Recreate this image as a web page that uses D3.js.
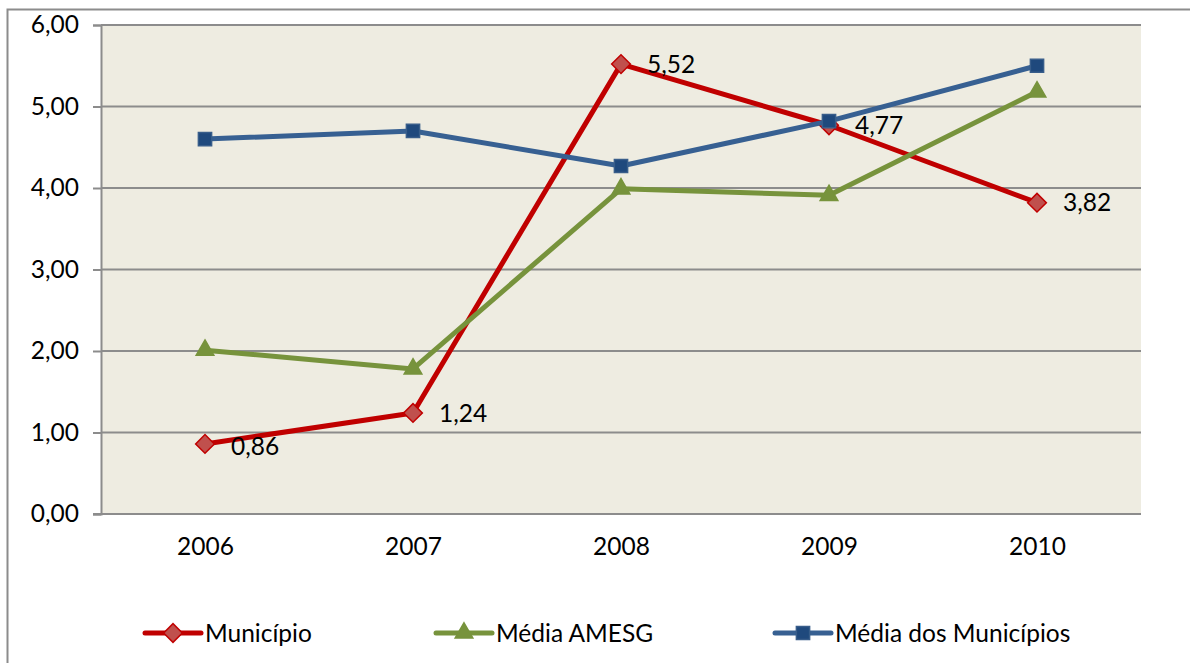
<!DOCTYPE html>
<html>
<head>
<meta charset="utf-8">
<script src="https://cdn.jsdelivr.net/npm/d3@7"></script>
<style>
  body { margin: 0; background: #fff; }
  svg { display: block; font-family: Lato, "Open Sans", sans-serif; }
</style>
</head>
<body>
<script>
// data
const years = ["2006", "2007", "2008", "2009", "2010"];
const municipio = [0.86, 1.24, 5.52, 4.77, 3.82];
const mediaAmesg = [2.01, 1.78, 3.99, 3.91, 5.18];
const mediaMunicipios = [4.60, 4.70, 4.27, 4.82, 5.50];
const yTicks = [0, 1, 2, 3, 4, 5, 6];
const seriesNames = ["Município", "Média AMESG", "Média dos Municípios"];

const W = 1190, H = 663;
const margin = { top: 25, right: 49, bottom: 149, left: 101 };
const width = W - margin.left - margin.right;
const height = H - margin.top - margin.bottom;
const fs = 24.5;

const svg = d3.select("body").append("svg")
  .attr("width", W).attr("height", H);

// outer chart frame (runs past the right and bottom edges)
svg.append("rect")
  .attr("x", 7.5).attr("y", 9.5)
  .attr("width", W + 20).attr("height", H + 20)
  .attr("fill", "#fff")
  .attr("stroke", "#8c8c8c").attr("stroke-width", 2);

const g = svg.append("g")
  .attr("transform", "translate(" + margin.left + "," + margin.top + ")");

const x = d3.scalePoint().domain(years).range([0, width]).padding(0.5);
const y = d3.scaleLinear().domain([0, 6]).range([height, 0]);

g.append("rect")
  .attr("width", width).attr("height", height)
  .attr("fill", "#eeece1");

// gridlines
g.append("g")
  .selectAll("line")
  .data(yTicks.filter(d => d > 0))
  .join("line")
  .attr("x1", 0).attr("x2", width)
  .attr("y1", d => y(d)).attr("y2", d => y(d))
  .attr("stroke", "#8c8c8c").attr("stroke-width", 2);

// y axis
const yAxis = g.append("g")
  .call(d3.axisLeft(y).tickValues(yTicks).tickSize(8).tickPadding(14)
    .tickFormat(d => d3.format(".2f")(d).replace(".", ",")));
yAxis.select(".domain").attr("stroke", "#8c8c8c").attr("stroke-width", 2);
yAxis.selectAll(".tick line").attr("stroke", "#8c8c8c").attr("stroke-width", 2);
yAxis.selectAll("text").attr("font-size", fs).attr("fill", "#000")
  .attr("font-family", "Lato, sans-serif");

// x axis
const xAxis = g.append("g")
  .attr("transform", "translate(0," + height + ")")
  .call(d3.axisBottom(x).tickSize(0).tickPadding(24));
xAxis.select(".domain").attr("stroke", "#8c8c8c").attr("stroke-width", 2)
  .attr("d", "M-8,0H" + width);
xAxis.selectAll("text").attr("font-size", fs).attr("fill", "#000")
  .attr("font-family", "Lato, sans-serif");

const series = [
  { name: seriesNames[0], values: municipio, line: "#c00000", fill: "#c0504d", stroke: "#c00000", shape: d3.symbolSquare, size: 175, rot: 45 },
  { name: seriesNames[1], values: mediaAmesg, line: "#77933c", fill: "#77933c", stroke: "#77933c", shape: d3.symbolTriangle, size: 135, rot: 0 },
  { name: seriesNames[2], values: mediaMunicipios, line: "#376092", fill: "#1f497d", stroke: "#385d8a", shape: d3.symbolSquare, size: 175, rot: 0 }
];

const line = d3.line().x((d, i) => x(years[i])).y(d => y(d));

series.forEach(s => {
  g.append("path")
    .datum(s.values)
    .attr("d", line)
    .attr("fill", "none")
    .attr("stroke", s.line)
    .attr("stroke-width", 5)
    .attr("stroke-linejoin", "round");
  g.append("g")
    .selectAll("path")
    .data(s.values)
    .join("path")
    .attr("transform", (d, i) => "translate(" + x(years[i]) + "," + y(d) + ") rotate(" + s.rot + ")")
    .attr("d", d3.symbol().type(s.shape).size(s.size))
    .attr("fill", s.fill)
    .attr("stroke", s.stroke)
    .attr("stroke-width", 1.5);
});

// data labels for Município
g.append("g")
  .selectAll("text")
  .data(municipio)
  .join("text")
  .attr("x", (d, i) => x(years[i]) + 26)
  .attr("y", (d, i) => y(d) + (i === 0 ? 2 : 0))
  .attr("dy", "0.36em")
  .attr("font-size", fs)
  .attr("fill", "#000")
  .text(d => d3.format(".2f")(d).replace(".", ","));

// legend
const legendX = [145, 436, 775];
const legendY = 633;
const leg = svg.append("g").selectAll("g")
  .data(series)
  .join("g")
  .attr("transform", (d, i) => "translate(" + legendX[i] + "," + legendY + ")");
leg.append("line")
  .attr("x1", 0).attr("x2", 56)
  .attr("stroke", d => d.line).attr("stroke-width", 5)
  .attr("stroke-linecap", "round");
leg.append("path")
  .attr("transform", d => "translate(28,0) rotate(" + d.rot + ")")
  .attr("d", d => d3.symbol().type(d.shape).size(d.size)())
  .attr("fill", d => d.fill)
  .attr("stroke", d => d.stroke)
  .attr("stroke-width", 1.5);
leg.append("text")
  .attr("x", 60)
  .attr("dy", "0.36em")
  .attr("font-size", fs)
  .attr("fill", "#000")
  .text(d => d.name);
</script>
</body>
</html>
